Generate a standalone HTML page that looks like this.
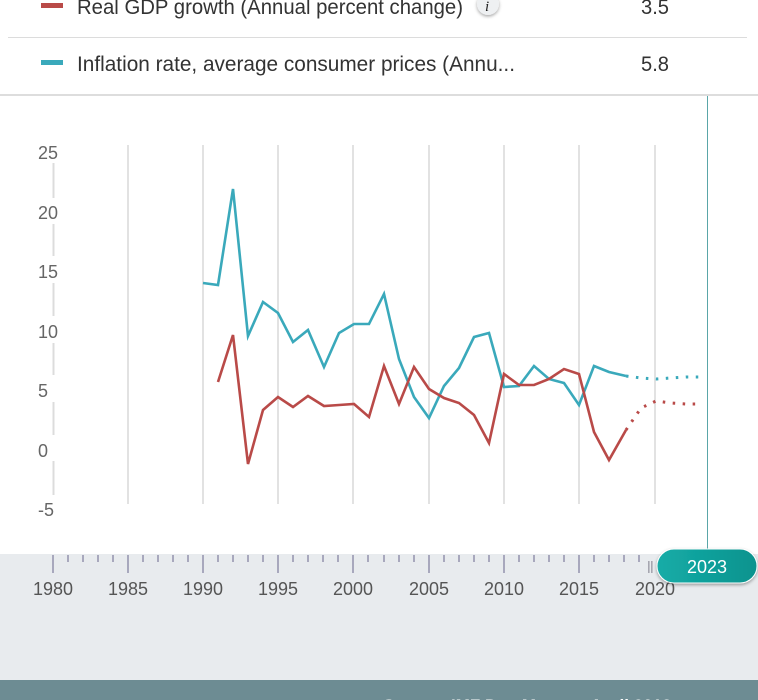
<!DOCTYPE html>
<html><head><meta charset="utf-8"><style>
html,body{margin:0;padding:0;background:#fff;}
svg{display:block;font-family:"Liberation Sans",Arial,sans-serif;}
</style></head><body>
<svg width="758" height="700" viewBox="0 0 758 700" xmlns="http://www.w3.org/2000/svg">
<defs>
<linearGradient id="btn" x1="0" y1="0" x2="1" y2="0"><stop offset="0" stop-color="#14aca7"/><stop offset="1" stop-color="#0c938e"/></linearGradient>
<filter id="sh" x="-20%" y="-20%" width="140%" height="160%"><feDropShadow dx="0" dy="1.5" stdDeviation="1.5" flood-color="#000" flood-opacity="0.35"/></filter>
</defs>
<rect x="0" y="0" width="758" height="700" fill="#fff"/>
<!-- legend -->
<rect x="41" y="3" width="22" height="5" fill="#b94a48"/>
<text x="77" y="14" font-size="21" fill="#333" textLength="386" lengthAdjust="spacingAndGlyphs">Real GDP growth (Annual percent change)</text>
<circle cx="488" cy="4" r="11" fill="#eef0f2" filter="url(#sh)"/>
<text x="485" y="11" font-size="15" font-style="italic" font-family="Liberation Serif,serif" fill="#222">i</text>
<text x="641" y="14" font-size="21" fill="#333" textLength="28" lengthAdjust="spacingAndGlyphs">3.5</text>
<rect x="8" y="37" width="739" height="1" fill="#dcdcdc"/>
<rect x="41" y="60" width="22" height="5" fill="#3aa9bb"/>
<text x="77" y="71" font-size="21" fill="#333" textLength="438" lengthAdjust="spacingAndGlyphs">Inflation rate, average consumer prices (Annu...</text>
<text x="641" y="71" font-size="21" fill="#333" textLength="28" lengthAdjust="spacingAndGlyphs">5.8</text>
<rect x="0" y="94" width="758" height="2" fill="#dddddd"/>
<!-- gridlines -->
<g stroke="#e2e2e2" stroke-width="2">
<line x1="128" y1="145" x2="128" y2="504"/>
<line x1="203" y1="145" x2="203" y2="504"/>
<line x1="278" y1="145" x2="278" y2="504"/>
<line x1="353" y1="145" x2="353" y2="504"/>
<line x1="429" y1="145" x2="429" y2="504"/>
<line x1="504" y1="145" x2="504" y2="504"/>
<line x1="579" y1="145" x2="579" y2="504"/>
<line x1="655" y1="145" x2="655" y2="504"/>
</g>
<g stroke="#dcdcdc" stroke-width="2">
<line x1="53.5" y1="163" x2="53.5" y2="198"/>
<line x1="53.5" y1="224" x2="53.5" y2="256"/>
<line x1="53.5" y1="283" x2="53.5" y2="316"/>
<line x1="53.5" y1="343" x2="53.5" y2="375"/>
<line x1="53.5" y1="402" x2="53.5" y2="435"/>
<line x1="53.5" y1="461" x2="53.5" y2="495"/>
</g>
<g font-size="18" fill="#666">
<text x="38" y="159" textLength="20" lengthAdjust="spacingAndGlyphs">25</text>
<text x="38" y="219" textLength="20" lengthAdjust="spacingAndGlyphs">20</text>
<text x="38" y="278" textLength="20" lengthAdjust="spacingAndGlyphs">15</text>
<text x="38" y="338" textLength="20" lengthAdjust="spacingAndGlyphs">10</text>
<text x="38" y="397">5</text>
<text x="38" y="457">0</text>
<text x="38" y="516">-5</text>
</g>
<!-- series -->
<polyline fill="none" stroke="#3aa9bb" stroke-width="2.6" stroke-linejoin="miter" points="203,283 218,285 233,189 248,336 263,302 278,313 293,342 308,330 324,367 339,333 354,324 369,324 384,294 399,359 414,397 429,418 444,386 459,368 474,337 489,333 504,387 519,386 534,366 549,379 564,383 579,405 594,366 609,372 626,376"/>
<polyline fill="none" stroke="#3aa9bb" stroke-width="3" stroke-dasharray="2.5,7.5" points="626,376 641,378 656,379 671,378 686,377 701,377"/>
<polyline fill="none" stroke="#b94a48" stroke-width="2.6" stroke-linejoin="miter" points="218,382 233,335 248,464 263,410 278,397 293,407 308,396 324,406 339,405 354,404 369,417 384,366 399,404 414,367 429,389 444,398 459,403 474,415 489,443 504,374 519,385 534,385 549,379 564,369 579,374 594,432 609,460 626,430"/>
<polyline fill="none" stroke="#b94a48" stroke-width="3" stroke-dasharray="2.5,7.5" points="626,430 641,408 656,401 671,403 686,404 701,404"/>
<!-- vertical marker -->
<line x1="707.5" y1="96" x2="707.5" y2="552" stroke="#5aa6a8" stroke-width="1"/>
<!-- slider area -->
<rect x="0" y="554" width="758" height="126" fill="#e8ebee"/>
<g stroke="#8c8ca8" stroke-width="1.4">
<line x1="53" y1="555" x2="53" y2="573"/><line x1="68" y1="555" x2="68" y2="562"/><line x1="83" y1="555" x2="83" y2="562"/><line x1="98" y1="555" x2="98" y2="562"/><line x1="113" y1="555" x2="113" y2="562"/>
<line x1="128" y1="555" x2="128" y2="573"/><line x1="143" y1="555" x2="143" y2="562"/><line x1="158" y1="555" x2="158" y2="562"/><line x1="173" y1="555" x2="173" y2="562"/><line x1="188" y1="555" x2="188" y2="562"/>
<line x1="203" y1="555" x2="203" y2="573"/><line x1="218" y1="555" x2="218" y2="562"/><line x1="233" y1="555" x2="233" y2="562"/><line x1="248" y1="555" x2="248" y2="562"/><line x1="263" y1="555" x2="263" y2="562"/>
<line x1="278" y1="555" x2="278" y2="573"/><line x1="293" y1="555" x2="293" y2="562"/><line x1="308" y1="555" x2="308" y2="562"/><line x1="323" y1="555" x2="323" y2="562"/><line x1="338" y1="555" x2="338" y2="562"/>
<line x1="353" y1="555" x2="353" y2="573"/><line x1="368" y1="555" x2="368" y2="562"/><line x1="384" y1="555" x2="384" y2="562"/><line x1="399" y1="555" x2="399" y2="562"/><line x1="414" y1="555" x2="414" y2="562"/>
<line x1="429" y1="555" x2="429" y2="573"/><line x1="444" y1="555" x2="444" y2="562"/><line x1="459" y1="555" x2="459" y2="562"/><line x1="474" y1="555" x2="474" y2="562"/><line x1="489" y1="555" x2="489" y2="562"/>
<line x1="504" y1="555" x2="504" y2="573"/><line x1="519" y1="555" x2="519" y2="562"/><line x1="534" y1="555" x2="534" y2="562"/><line x1="549" y1="555" x2="549" y2="562"/><line x1="564" y1="555" x2="564" y2="562"/>
<line x1="579" y1="555" x2="579" y2="573"/><line x1="594" y1="555" x2="594" y2="562"/><line x1="609" y1="555" x2="609" y2="562"/><line x1="624" y1="555" x2="624" y2="562"/><line x1="639" y1="555" x2="639" y2="562"/>
</g>
<rect x="648" y="561" width="1.6" height="12" fill="#a6a6b0"/>
<rect x="651" y="561" width="1.6" height="12" fill="#a6a6b0"/>
<g font-size="18" fill="#555" text-anchor="middle">
<text x="53" y="595" textLength="40" lengthAdjust="spacingAndGlyphs">1980</text>
<text x="128" y="595" textLength="40" lengthAdjust="spacingAndGlyphs">1985</text>
<text x="203" y="595" textLength="40" lengthAdjust="spacingAndGlyphs">1990</text>
<text x="278" y="595" textLength="40" lengthAdjust="spacingAndGlyphs">1995</text>
<text x="353" y="595" textLength="40" lengthAdjust="spacingAndGlyphs">2000</text>
<text x="429" y="595" textLength="40" lengthAdjust="spacingAndGlyphs">2005</text>
<text x="504" y="595" textLength="40" lengthAdjust="spacingAndGlyphs">2010</text>
<text x="579" y="595" textLength="40" lengthAdjust="spacingAndGlyphs">2015</text>
<text x="655" y="595" textLength="40" lengthAdjust="spacingAndGlyphs">2020</text>
</g>
<rect x="657" y="549" width="100" height="34" rx="17" ry="17" fill="url(#btn)" stroke="#fff" stroke-width="1" filter="url(#sh)"/>
<text x="707" y="573" font-size="18" fill="#fff" text-anchor="middle">2023</text>
<!-- footer -->
<rect x="0" y="680" width="758" height="20" fill="#6d8c93"/>
<text x="383" y="711" font-size="17" font-weight="bold" fill="#fff">Source: IMF DataMapper, April 2018</text>
</svg>
</body></html>
